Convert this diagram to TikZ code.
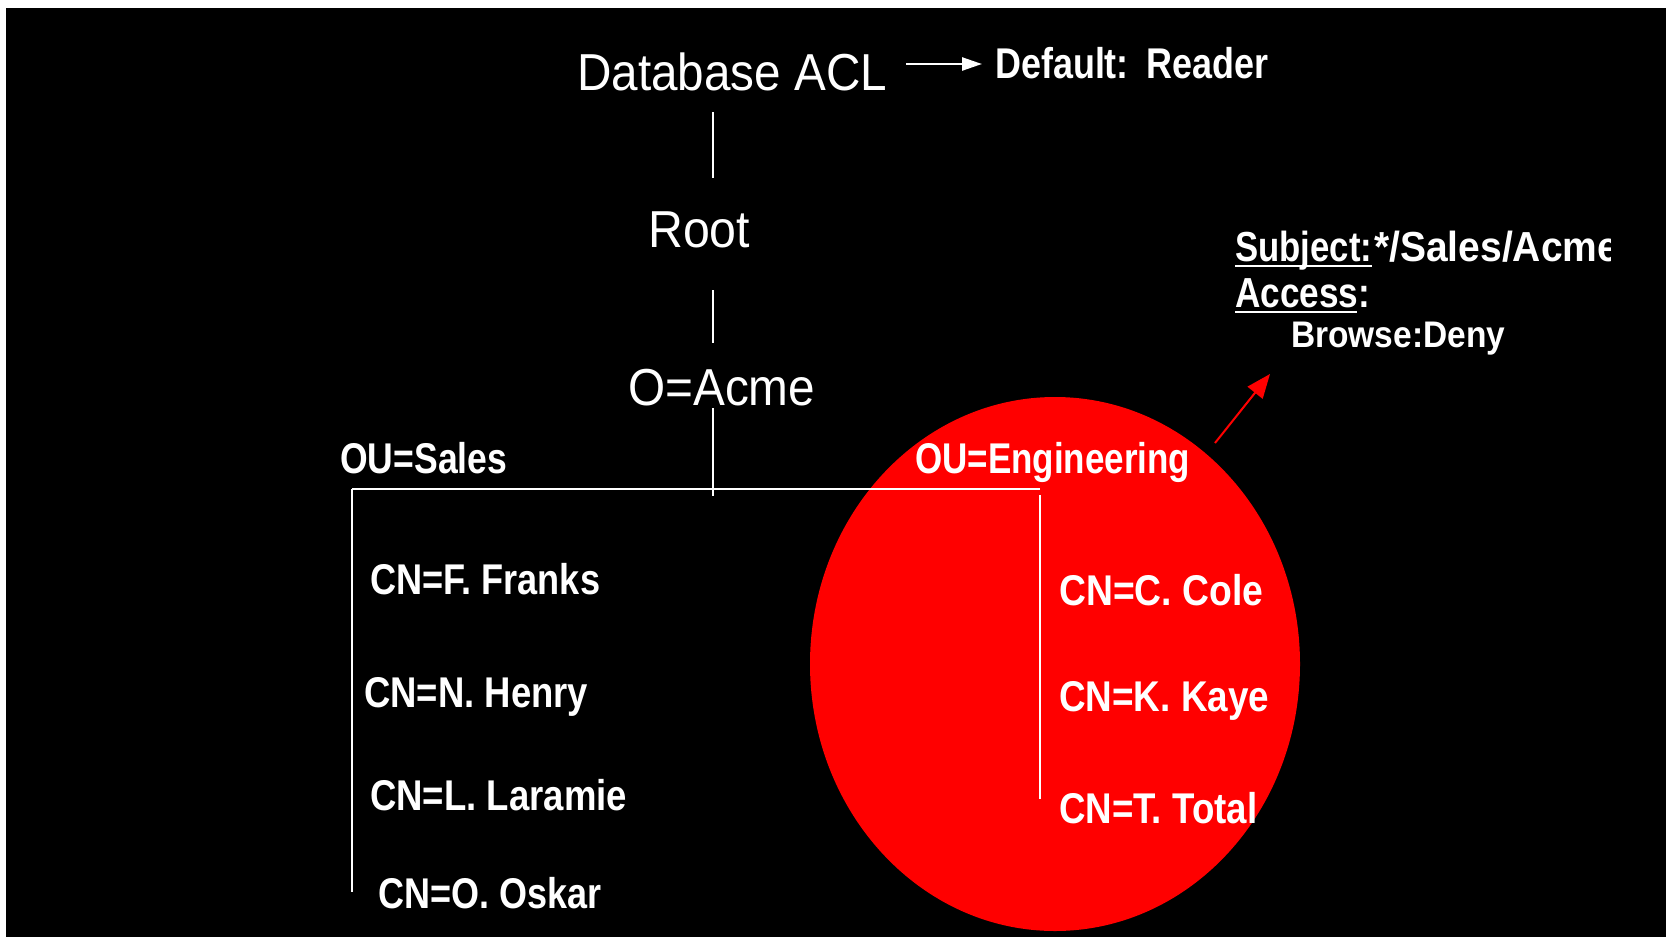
\documentclass[tikz,border=0pt]{standalone}
\usepackage{fontspec}
\usepackage{graphicx}
\setmainfont{Liberation Sans}
\usetikzlibrary{arrows.meta}

% set a text in the current font and squeeze it horizontally to a given width (in pt)
\newsavebox\fitbx
\newcommand\fitw[2]{\sbox\fitbx{#2}\pgfmathsetmacro\fitsx{#1/\wd\fitbx}\scalebox{\fitsx}[1]{\usebox\fitbx}}

\tikzset{
  regtext/.style={text=white, inner sep=0pt, anchor=base west,
    font=\fontsize{52pt}{60pt}\selectfont},
  boldtext/.style={text=white, inner sep=0pt, anchor=base west,
    font=\fontsize{43pt}{50pt}\selectfont\bfseries},
  notetext/.style={text=white, inner sep=0pt, anchor=base west,
    font=\fontsize{42pt}{50pt}\selectfont\bfseries},
  smalltext/.style={text=white, inner sep=0pt, anchor=base west,
    font=\fontsize{37pt}{44pt}\selectfont\bfseries},
  treeline/.style={white, line width=2pt},
  uline/.style={white, line width=2.5pt},
}

\begin{document}
\begin{tikzpicture}[x=1pt, y=-1pt]
  % page and dark slide area
  \fill[white] (0,0) rectangle (1666,937);
  \fill[black] (6,8) rectangle (1666,937);
  \useasboundingbox (0,0) rectangle (1666,937);

  % engineering group highlight
  \fill[red] (1055,664) ellipse [x radius=245pt, y radius=267pt];

  % hierarchy labels
  \node[regtext] (dbacl) at (577,90) {\fitw{310}{Database ACL}};
  \node[regtext] (root)  at (648,247) {\fitw{102}{Root}};
  \node[regtext] (oacme) at (628,405) {\fitw{187}{O=Acme}};
  \node[boldtext] (default) at (995,78) {\fitw{273}{Default:\hspace{5pt} Reader}};

  \node[boldtext] (ousales) at (340,473) {\fitw{167}{OU=Sales}};
  \node[boldtext] (oueng)   at (915,473) {\fitw{275}{OU=Engineering}};

  \node[boldtext] (cnf) at (370,594) {\fitw{230}{CN=F. Franks}};
  \node[boldtext] (cnn) at (364,707) {\fitw{224}{CN=N. Henry}};
  \node[boldtext] (cnl) at (370,810) {\fitw{257}{CN=L. Laramie}};
  \node[boldtext] (cno) at (378,908) {\fitw{223}{CN=O. Oskar}};

  \node[boldtext] (cnc) at (1059,605) {\fitw{204}{CN=C. Cole}};
  \node[boldtext] (cnk) at (1059,711) {\fitw{210}{CN=K. Kaye}};
  \node[boldtext] (cnt) at (1059,823) {\fitw{198}{CN=T. Total}};

  % ACL entry note
  \node[notetext] (subj) at (1235,261) {\fitw{137}{Subject:}};
  \begin{scope}
    \clip (1300,200) rectangle (1610,300);
    \node[notetext] (subjv) at (1374,261) {\fitw{245}{*/Sales/Acme}};
  \end{scope}
  \node[notetext] (acc) at (1235,307) {\fitw{135}{Access:}};
  \node[smalltext] (brw) at (1291,347) {\fitw{214}{Browse:Deny}};
  \draw[uline] ([yshift=-5pt]subj.base west) -- ([yshift=-5pt]subj.base east);
  \draw[uline] ([yshift=-5pt]acc.base west) -- ++(122,0);

  % tree connectors
  \coordinate (t1) at (713,112); \coordinate (b1) at (713,178);
  \coordinate (t2) at (713,290); \coordinate (b2) at (713,343);
  \coordinate (t3) at (713,408); \coordinate (b3) at (713,496);
  \coordinate (hl) at (352,489); \coordinate (hr) at (1040,489);
  \coordinate (sl) at (352,892);
  \coordinate (et) at (1040,495); \coordinate (eb) at (1040,799);
  \draw[treeline] (t1) -- (b1);
  \draw[treeline] (t2) -- (b2);
  \draw[treeline] (t3) -- (b3);
  \draw[treeline] (hl) -- (hr);
  \draw[treeline] (hl) -- (sl);
  \draw[treeline] (et) -- (eb);

  % default access arrow
  \coordinate (a1) at (906,64); \coordinate (a2) at (982,64);
  \draw[white, line width=2.5pt, -{Triangle[length=20pt, width=13pt]}] (a1) -- (a2);

  % arrow from the engineering group to its ACL entry
  \coordinate (r1) at (1215,443); \coordinate (r2) at (1270,374);
  \draw[red, line width=2pt, -{Triangle[length=24pt, width=19pt]}] (r1) -- (r2);
\end{tikzpicture}
\end{document}
